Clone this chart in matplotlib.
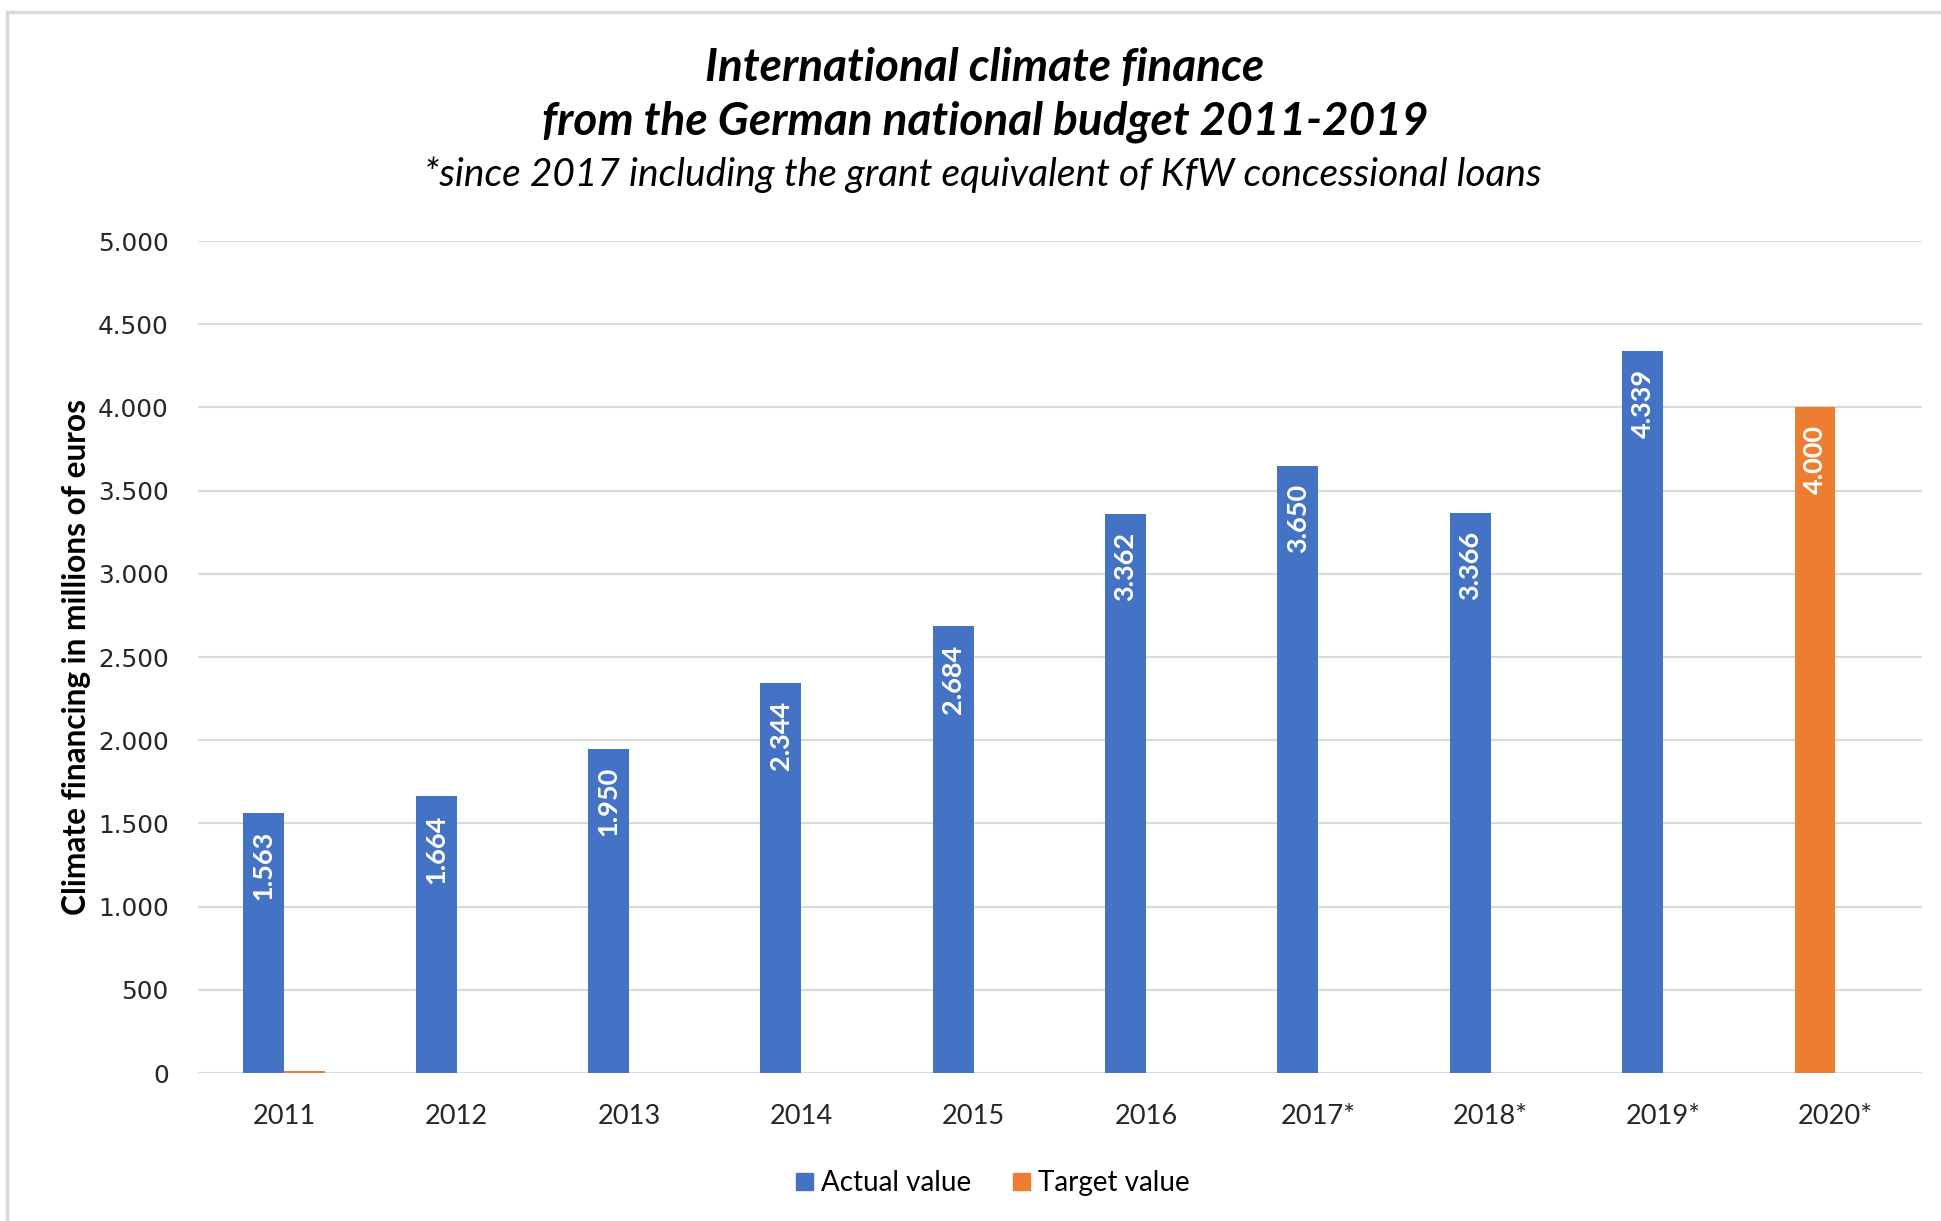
import matplotlib
matplotlib.use("Agg")
import matplotlib.pyplot as plt
from matplotlib.lines import Line2D
import numpy as np

# climate finance from the federal budget, millions of euros
years = ["2011", "2012", "2013", "2014", "2015", "2016", "2017*", "2018*", "2019*", "2020*"]
actual = [1563, 1664, 1950, 2344, 2684, 3362, 3650, 3366, 4339]
target_2020 = 4000
target_2011 = 15   # stray near-zero target entry next to 2011

BLUE = "#4472C4"
ORANGE = "#ED7D31"
GRID = "#D9D9D9"

plt.rcParams["font.family"] = ["Lato", "DejaVu Sans"]


def de_fmt(v):
    return f"{v:,}".replace(",", ".")


fig = plt.figure(figsize=(19.41, 12.21), dpi=100)
ax = fig.add_axes([0.102, 0.1212, 0.888, 0.6814])

x = np.arange(len(years))
w = 0.237

# first slot: actual values, with the 2020 target in the same slot
left_vals = actual + [target_2020]
left_cols = [BLUE] * len(actual) + [ORANGE]
bars = ax.bar(x - w / 2, left_vals, width=w, color=left_cols, zorder=3)
ax.bar(x[0] + w / 2, target_2011, width=w, color=ORANGE, zorder=3)

for b, v in zip(bars, left_vals):
    ax.annotate(de_fmt(v), (b.get_x() + b.get_width() / 2, v),
                xytext=(0, -13), textcoords="offset points",
                rotation=90, ha="center", va="top", color="white",
                fontsize=19.5, fontweight="bold")

ax.set_xlim(-0.5, len(years) - 0.5)
ax.set_ylim(0, 5000)
ax.set_yticks(np.arange(0, 5001, 500))
ax.set_yticklabels([de_fmt(t) for t in range(0, 5001, 500)],
                   fontfamily="DejaVu Sans", fontsize=17.8, color="#262626")
ax.set_xticks(x)
ax.set_xticklabels(years, fontsize=19.6, color="#262626")
ax.tick_params(length=0)
ax.tick_params(axis="y", pad=21)
ax.tick_params(axis="x", pad=22)
ax.grid(axis="y", color=GRID, linewidth=1.5, zorder=0)
for s in ax.spines.values():
    s.set_visible(False)

ax.set_ylabel("Climate financing in millions of euros", fontsize=22.8,
              fontweight="bold", labelpad=5)

fig.text(0.5075, 0.944, "International climate finance", ha="center", va="center",
         fontsize=33, fontweight="bold", fontstyle="italic")
fig.text(0.5075, 0.9, "from the German national budget 2011-2019", ha="center",
         va="center", fontsize=33, fontweight="bold", fontstyle="italic")
fig.text(0.5065, 0.857, "*since 2017 including the grant equivalent of KfW concessional loans",
         ha="center", va="center", fontsize=28, fontstyle="italic")

handles = [plt.Rectangle((0, 0), 1, 1, color=BLUE),
           plt.Rectangle((0, 0), 1, 1, color=ORANGE)]
fig.legend(handles, ["Actual value", "Target value"], loc="center",
           bbox_to_anchor=(0.5115, 0.031), ncol=2, frameon=False, fontsize=20,
           handlelength=0.6, handleheight=0.6, handletextpad=0.3, columnspacing=1.5)

# outer frame edges
fig.add_artist(Line2D([0.0035, 1], [0.990, 0.990], color=GRID, lw=2.5))
fig.add_artist(Line2D([0.0035, 0.0035], [0, 0.990], color=GRID, lw=2.5))

fig.savefig("out.png", dpi=100, facecolor="white")
